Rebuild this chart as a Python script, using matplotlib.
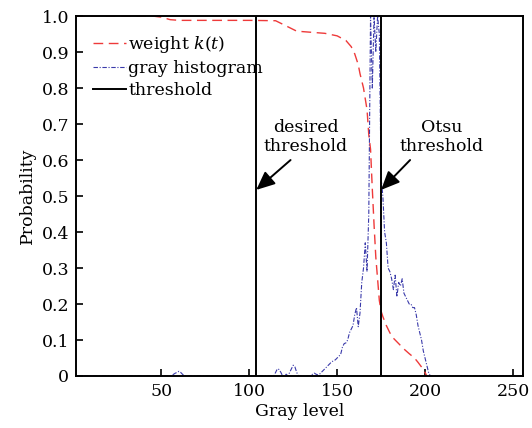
import numpy as np
import matplotlib
matplotlib.use("Agg")
import matplotlib.pyplot as plt

# ---- data ----
gray_levels = np.arange(1, 256)

hist_points = {
    56: 0.002, 57: 0.005, 58: 0.008, 59: 0.010, 60: 0.013, 61: 0.010, 62: 0.005, 63: 0.0,
    114: 0.0, 115: 0.010, 116: 0.020, 117: 0.018, 118: 0.010, 119: 0.0, 120: 0.0,
    121: 0.005, 122: 0.0, 123: 0.010, 124: 0.020, 125: 0.030, 126: 0.025, 127: 0.010, 128: 0.0,
    135: 0.0, 136: 0.005, 137: 0.008, 138: 0.005, 139: 0.003, 140: 0.005, 141: 0.010,
    142: 0.015, 143: 0.020, 144: 0.025, 145: 0.030, 146: 0.035, 147: 0.040, 148: 0.042,
    149: 0.045, 150: 0.050, 151: 0.055, 152: 0.060, 153: 0.080, 154: 0.090, 155: 0.092,
    156: 0.100, 157: 0.120, 158: 0.130, 159: 0.140, 160: 0.170, 161: 0.190, 162: 0.137,
    163: 0.175, 164: 0.260, 165: 0.300, 166: 0.370, 167: 0.290, 168: 0.450, 169: 1.000,
    170: 0.800, 171: 1.000, 172: 0.900, 173: 1.000, 174: 0.950, 175: 0.550, 176: 0.500,
    177: 0.400, 178: 0.370, 179: 0.300, 180: 0.290, 181: 0.270, 182: 0.240, 183: 0.280,
    184: 0.220, 185: 0.260, 186: 0.250, 187: 0.270, 188: 0.230, 189: 0.220, 190: 0.210,
    191: 0.200, 192: 0.200, 193: 0.190, 194: 0.190, 195: 0.170, 196: 0.140, 197: 0.120,
    198: 0.100, 199: 0.070, 200: 0.050, 201: 0.030, 202: 0.010, 203: 0.0,
}
hist_values = np.array([hist_points.get(g, 0.0) for g in gray_levels])

weight_x = [1, 45, 50, 55, 60, 100, 115, 120, 127, 135, 143, 150, 155, 158, 160, 162,
            163, 165, 167, 168, 169, 170, 171, 172, 173, 174, 175, 176, 178, 180, 182,
            185, 188, 191, 194, 196, 198, 200, 201]
weight_y = [1.0, 1.0, 0.997, 0.99, 0.988, 0.988, 0.987, 0.975, 0.958, 0.955, 0.952,
            0.945, 0.932, 0.915, 0.895, 0.865, 0.84, 0.80, 0.74, 0.67, 0.63, 0.52, 0.42,
            0.33, 0.27, 0.21, 0.18, 0.165, 0.14, 0.12, 0.105, 0.09, 0.075, 0.062, 0.05,
            0.038, 0.025, 0.01, 0.0]

desired_threshold = 104
otsu_threshold = 175

xticks = [50, 100, 150, 200, 250]
yticks = [0, 0.1, 0.2, 0.3, 0.4, 0.5, 0.6, 0.7, 0.8, 0.9, 1.0]
ytick_labels = ["0", "0.1", "0.2", "0.3", "0.4", "0.5", "0.6", "0.7", "0.8", "0.9", "1.0"]

# ---- plot ----
plt.rcParams["font.family"] = ["DejaVu Serif"]
plt.rcParams["mathtext.fontset"] = "dejavuserif"
fs = 12.5
plt.rcParams["font.size"] = fs

fig = plt.figure(figsize=(5.32, 4.28), dpi=100)
ax = fig.add_axes([0.143, 0.1215, 0.841, 0.841])

ax.plot(weight_x, weight_y, color="#ee3a3a", linestyle=(0, (7, 4)), linewidth=1.0,
        label="weight $k(t)$")
ax.plot(gray_levels, hist_values, color="#3a3aaa", linestyle=(0, (4, 1.5, 1, 1.5)),
        linewidth=0.8, label="gray histogram")
ax.axvline(desired_threshold, color="black", linewidth=1.4, label="threshold")
ax.axvline(otsu_threshold, color="black", linewidth=1.4)

ax.set_xlim(1.5, 256)
ax.set_ylim(0, 1.0)
ax.set_xticks(xticks)
ax.set_yticks(yticks)
ax.set_yticklabels(ytick_labels)
ax.tick_params(direction="in", length=5, width=1.2, labelsize=fs, pad=5)
for s in ax.spines.values():
    s.set_linewidth(1.4)

ax.set_xlabel("Gray level", fontsize=fs, labelpad=2)
ax.set_ylabel("Probability", fontsize=fs, labelpad=4)

arrowprops = dict(arrowstyle="-|>,head_length=0.9,head_width=0.4", color="black",
                  linewidth=1.4, shrinkA=0, shrinkB=0)
ax.annotate("", xy=(desired_threshold, 0.517), xytext=(123.5, 0.60), arrowprops=arrowprops)
ax.annotate("", xy=(otsu_threshold, 0.517), xytext=(191.5, 0.60), arrowprops=arrowprops)
ax.text(132, 0.665, "desired\nthreshold", ha="center", va="center", fontsize=fs,
        linespacing=1.15)
ax.text(209.5, 0.665, "Otsu\nthreshold", ha="center", va="center", fontsize=fs,
        linespacing=1.15)

ax.legend(loc="upper left", frameon=False, fontsize=fs, handlelength=1.9,
          handletextpad=0.15, labelspacing=0.3, borderaxespad=0.3,
          bbox_to_anchor=(0.01, 0.985))

fig.savefig("out.png", dpi=100)
